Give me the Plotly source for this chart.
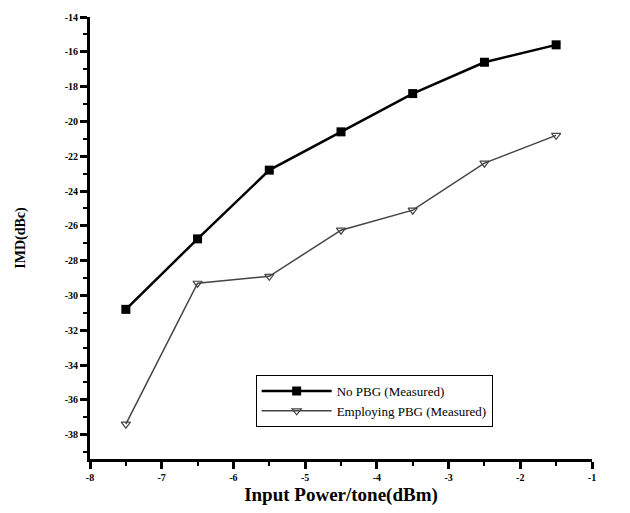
import plotly.graph_objects as go

x_power = [-7.5, -6.5, -5.5, -4.5, -3.5, -2.5, -1.5]
imd_no_pbg = [-30.8, -26.75, -22.8, -20.6, -18.4, -16.6, -15.6]
imd_pbg = [-37.4, -29.3, -28.9, -26.25, -25.1, -22.4, -20.8]
y_ticks = [-14, -16, -18, -20, -22, -24, -26, -28, -30, -32, -34, -36, -38]
x_ticks = [-8, -7, -6, -5, -4, -3, -2, -1]

font_family = "Liberation Serif"

fig = go.Figure()
fig.add_trace(go.Scatter(
    x=x_power, y=imd_no_pbg, mode="lines+markers",
    name="No PBG (Measured)",
    line=dict(color="black", width=2.5),
    marker=dict(symbol="square", size=9, color="black"),
))
fig.add_trace(go.Scatter(
    x=x_power, y=imd_pbg, mode="lines+markers",
    name="Employing PBG (Measured)",
    line=dict(color="#444444", width=1.5),
    marker=dict(symbol="triangle-down-open", size=8, color="#444444", line=dict(width=1.2)),
))

fig.update_layout(
    width=630, height=513,
    margin=dict(l=90, r=38, t=11, b=50),
    paper_bgcolor="white", plot_bgcolor="white",
    font=dict(family=font_family, color="black"),
    showlegend=True,
    legend=dict(
        x=0.33, y=0.19, xanchor="left", yanchor="top",
        bgcolor="white", bordercolor="black", borderwidth=1,
        font=dict(size=13, family=font_family, color="black"),
        tracegroupgap=0, itemwidth=70,
    ),
    xaxis=dict(
        range=[-8, -1], tickvals=x_ticks, ticktext=["<b>%d</b>" % v for v in x_ticks],
        showline=True, linecolor="black", linewidth=3, mirror=False,
        ticks="outside", ticklen=7, tickwidth=3, tickcolor="black",
        minor=dict(dtick=0.5, tick0=-8, ticks="outside", ticklen=4, tickwidth=2, tickcolor="black"),
        showgrid=False, zeroline=False,
        tickfont=dict(size=10, family=font_family, color="black"),
        title=dict(text="<b>Input Power/tone(dBm)</b>", font=dict(size=19, family=font_family), standoff=6),
    ),
    yaxis=dict(
        range=[-39.4, -14], tickvals=y_ticks, ticktext=["<b>%d</b>" % v for v in y_ticks],
        showline=True, linecolor="black", linewidth=3, mirror=False,
        ticks="outside", ticklen=7, tickwidth=3, tickcolor="black",
        minor=dict(dtick=1, tick0=-14, ticks="outside", ticklen=4, tickwidth=2, tickcolor="black"),
        showgrid=False, zeroline=False,
        tickfont=dict(size=10, family=font_family, color="black"),
        title=dict(text="<b>IMD(dBc)</b>", font=dict(size=14, family=font_family), standoff=36),
    ),
)

fig.write_html("out.html")
